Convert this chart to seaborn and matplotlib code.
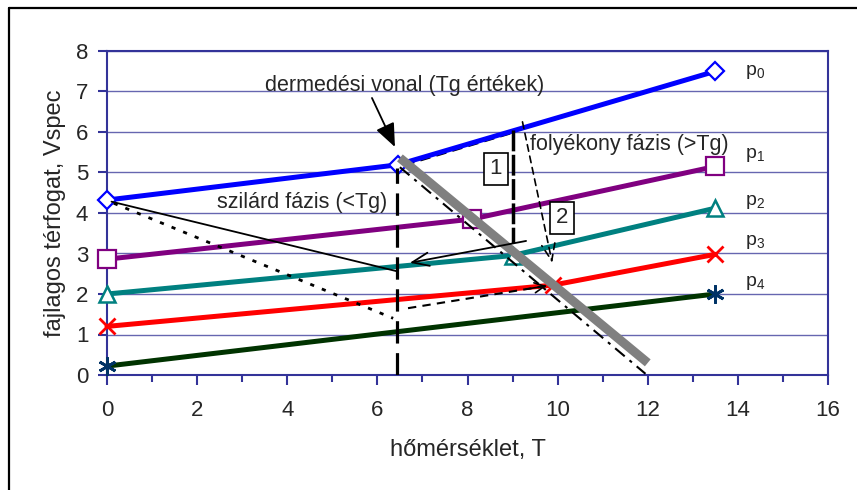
import pandas as pd
import seaborn as sns
import matplotlib.pyplot as plt
from matplotlib.lines import Line2D

# isobars p0..p4: specific volume vs temperature (knee at Tg)
p0_t = [0, 6.45, 13.5]
p0_v = [4.32, 5.19, 7.5]
p1_t = [0, 8.1, 13.5]
p1_v = [2.86, 3.85, 5.15]
p2_t = [0, 9.0, 13.5]
p2_v = [2.0, 2.95, 4.12]
p3_t = [0, 9.9, 13.5]
p3_v = [1.2, 2.22, 2.98]
p4_t = [0, 13.5]
p4_v = [0.22, 2.0]

series_names = ["p$_0$", "p$_1$", "p$_2$", "p$_3$", "p$_4$"]
label_y = [7.48, 5.43, 4.27, 3.28, 2.27]

# glass transition line (Tg values)
tg_t = [6.5, 12.0]
tg_v = [5.36, 0.3]

# helper lines of the sketch
solid_t = [0.1, 6.44]          # solid state path
solid_v = [4.28, 2.56]
dotted_t = [0.15, 6.35]
dotted_v = [4.24, 1.4]
dashed_low_t = [6.68, 9.75]
dashed_low_v = [1.65, 2.2]
dashdot_t = [6.5, 11.95]
dashdot_v = [5.13, 0.03]
vert_tg_t = [6.44, 6.44]
vert_tg_v = [0.0, 5.1]
vert1_t = [9.01, 9.01]
vert1_v = [6.05, 3.26]
top_dash_t = [6.6, 9.0]
top_dash_v = [5.18, 5.98]

GRID = "#6666B0"
AXIS = "#333399"


def draw_series(ax, t, v, color, marker, ms, mfc, mec, mew):
    df = pd.DataFrame({"T": t, "V": v})
    sns.lineplot(
        data=df, x="T", y="V", ax=ax, color=color, linewidth=3.6,
        marker=marker, markersize=ms, markerfacecolor=mfc,
        markeredgecolor=mec, markeredgewidth=mew, sort=False,
        estimator=None, zorder=4, clip_on=False,
    )


def main() -> None:
    sns.set_theme(style="white")
    plt.rcParams["font.family"] = ["Liberation Sans", "DejaVu Sans"]
    plt.rcParams["mathtext.fontset"] = "custom"
    plt.rcParams["mathtext.rm"] = "Liberation Sans"
    plt.rcParams["mathtext.it"] = "Liberation Sans"

    fig = plt.figure(figsize=(8.57, 4.9), dpi=100)
    ax = fig.add_axes([107 / 857, 1 - 375 / 490, 721 / 857, 324 / 490])

    draw_series(ax, p0_t, p0_v, "#0000FF", "D", 9.5, "white", "#0000FF", 1.6)
    draw_series(ax, p1_t, p1_v, "#800080", "s", 12.5, "white", "#800080", 1.6)
    draw_series(ax, p2_t, p2_v, "#008080", "^", 12, "white", "#008080", 1.8)
    draw_series(ax, p3_t, p3_v, "#FF0000", "x", 12, "#FF0000", "#FF0000", 2)
    draw_series(ax, p4_t, p4_v, "#003300", (6, 2, 0), 13, "#003366", "#003366", 2)

    # thin helper lines
    ax.plot(solid_t, solid_v, color="black", lw=1.3, zorder=5)
    ax.plot(dotted_t, dotted_v, color="black", lw=2, ls=(0, (1.5, 3)), zorder=5)
    ax.plot(dashed_low_t, dashed_low_v, color="black", lw=1.5, ls=(0, (4, 3)), zorder=5)
    ax.plot(top_dash_t, top_dash_v, color="black", lw=1.5, ls=(0, (5, 3)), zorder=3)
    ax.plot(vert_tg_t, vert_tg_v, color="black", lw=2.3, ls=(0, (7, 3)), zorder=6)
    ax.plot(vert1_t, vert1_v, color="black", lw=2.5, ls=(0, (6, 1)), zorder=6)

    # glass transition line
    ax.plot(tg_t, tg_v, color="#808080", lw=6.5, solid_capstyle="butt", zorder=7)
    ax.plot(dashdot_t, dashdot_v, color="black", lw=1.5, ls=(0, (6, 3, 1.5, 3)), zorder=6)

    # arrows
    ax.annotate("", xy=(6.39, 5.63), xytext=(5.88, 6.84),
                arrowprops=dict(arrowstyle="-|>,head_length=1.2,head_width=0.5",
                                color="black", lw=1.3, shrinkA=0, shrinkB=0), zorder=8)
    ax.annotate("", xy=(6.72, 2.77), xytext=(9.3, 3.31),
                arrowprops=dict(arrowstyle="->,head_length=1.0,head_width=0.4",
                                color="black", lw=1.3, shrinkA=0, shrinkB=0), zorder=8)
    ax.annotate("", xy=(9.88, 2.77), xytext=(9.22, 6.25),
                arrowprops=dict(arrowstyle="->,head_length=1.0,head_width=0.4",
                                color="black", lw=1.2, ls=(0, (4, 3)),
                                shrinkA=0, shrinkB=0), zorder=8)
    ax.annotate("", xy=(9.75, 2.2), xytext=(9.3, 2.12),
                arrowprops=dict(arrowstyle="->,head_length=0.6,head_width=0.3",
                                color="black", lw=1.2, shrinkA=0, shrinkB=0), zorder=8)

    # texts
    ax.text(6.61, 7.16, "dermedési vonal (Tg értékek)", ha="center", va="center",
            fontsize=15.5, zorder=9)
    ax.text(4.33, 4.25, "szilárd fázis (<Tg)", ha="center", va="center",
            fontsize=15.5, zorder=9)
    ax.text(9.39, 5.68, "folyékony fázis (>Tg)", ha="left", va="center",
            fontsize=15.5, zorder=9)
    box = dict(boxstyle="square,pad=0.25", fc="white", ec="black", lw=1.2)
    ax.text(8.63, 5.09, "1", ha="center", va="center", fontsize=16, bbox=box, zorder=9)
    ax.text(10.1, 3.88, "2", ha="center", va="center", fontsize=16, bbox=box, zorder=9)
    for name, y in zip(series_names, label_y):
        ax.text(14.15, y, name, ha="left", va="center", fontsize=14, zorder=9)

    # axes styling
    ax.set_xlim(0, 16)
    ax.set_ylim(0, 8)
    ax.set_xticks(range(0, 17, 2))
    ax.set_xticks(range(1, 17, 2), minor=True)
    ax.set_yticks(range(0, 9))
    ax.yaxis.grid(True, color=GRID, lw=1)
    ax.xaxis.grid(False)
    ax.set_axisbelow(True)
    for spine in ax.spines.values():
        spine.set_visible(True)
        spine.set_color(AXIS)
        spine.set_linewidth(1.5)
    ax.tick_params(axis="x", which="major", direction="out", length=7, width=1.5,
                   color=AXIS, labelsize=16, pad=11, bottom=True)
    ax.tick_params(axis="x", which="minor", direction="out", length=5, width=1.5,
                   color=AXIS, bottom=True)
    ax.tick_params(axis="y", direction="out", length=6.5, width=1.5,
                   color=AXIS, labelsize=16, pad=7, left=True)

    ax.set_xlabel("hőmérséklet, T", fontsize=17, va="center")
    ax.xaxis.set_label_coords(0.5, -(450 - 375) / 324)
    ax.set_ylabel("fajlagos térfogat, Vspec", fontsize=17, va="center")
    ax.yaxis.set_label_coords(-(107 - 55) / 721, 0.5)

    # outer chart frame (left and top edges visible)
    fig.add_artist(Line2D([9 / 857, 9 / 857], [0, 1 - 8 / 490], color="black", lw=1.6))
    fig.add_artist(Line2D([9 / 857, 1], [1 - 8 / 490, 1 - 8 / 490], color="black", lw=1.6))

    fig.savefig("out.png", dpi=100)


if __name__ == "__main__":
    main()
